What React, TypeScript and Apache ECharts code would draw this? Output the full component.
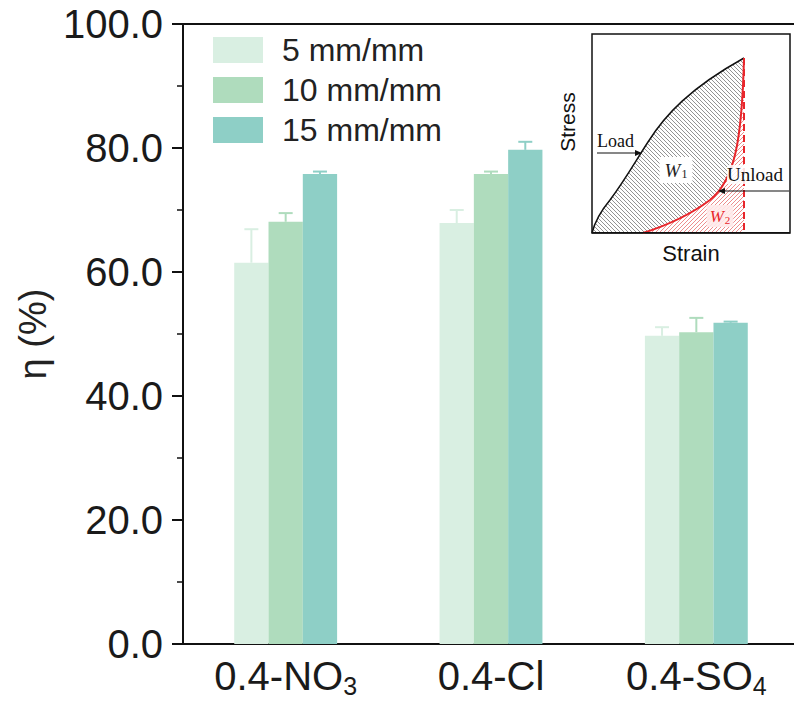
import React, { useEffect, useRef } from 'react';
import * as echarts from 'echarts';

const categories = ['0.4-NO3', '0.4-Cl', '0.4-SO4'];
const categoryLabels = ['{m|0.4-NO}{sub|3}', '{m|0.4-Cl}', '{m|0.4-SO}{sub|4}'];
const seriesNames = ['5 mm/mm', '10 mm/mm', '15 mm/mm'];
const values5 = [61.5, 67.9, 49.7];
const values10 = [68.1, 75.8, 50.3];
const values15 = [75.8, 79.7, 51.8];
const errors5 = [5.4, 2.1, 1.4];
const errors10 = [1.4, 0.4, 2.3];
const errors15 = [0.4, 1.3, 0.2];
const yMin = 0;
const yMax = 100;
const yInterval = 20;

const colors = ['#d9efe2', '#afdcbd', '#8ecfc6'];
const FONT = '"Liberation Sans", Arial, sans-serif';
const SERIF = '"Liberation Serif", "Times New Roman", serif';
const BAR_FRAC = 0.167;

const LOAD_D = 'M592,233 C595,221 600,212 610,200 C625,180 635,162 648,142 C665,115 690,88 744,58';
const UNLOAD_D = 'M744,58 C742,140 735,180 710,200 C690,215 665,226 643,233';
const W1_D = 'M592,233 C595,221 600,212 610,200 C625,180 635,162 648,142 C665,115 690,88 744,58 C742,140 735,180 710,200 C690,215 665,226 643,233 Z';
const W2_D = 'M643,233 C665,226 690,215 710,200 C735,180 742,140 744,58 L744,233 Z';

let registered = false;
function registerShapes() {
  if (registered) return;
  registered = true;
  echarts.graphic.registerShape('loadCurve', echarts.graphic.extendPath(LOAD_D, {}));
  echarts.graphic.registerShape('unloadCurve', echarts.graphic.extendPath(UNLOAD_D, {}));
  echarts.graphic.registerShape('w1Area', echarts.graphic.extendPath(W1_D, {}));
  echarts.graphic.registerShape('w2Area', echarts.graphic.extendPath(W2_D, {}));
}

function hatch(dir: 'back' | 'fwd', color: string) {
  const s = 4;
  const d = dir === 'back'
    ? `M0,0 L${s},${s} M-1,${s - 1} L1,${s + 1} M${s - 1},-1 L${s + 1},1`
    : `M0,${s} L${s},0 M-1,1 L1,-1 M${s - 1},${s + 1} L${s + 1},${s - 1}`;
  const svg = `<svg xmlns='http://www.w3.org/2000/svg' width='${s}' height='${s}'><path d='${d}' stroke='${color}' stroke-width='0.8' fill='none'/></svg>`;
  return {
    image: 'data:image/svg+xml;charset=utf-8,' + encodeURIComponent(svg),
    repeat: 'repeat',
    imageWidth: s,
    imageHeight: s,
  };
}

export default function App() {
  const ref = useRef<HTMLDivElement>(null);
  useEffect(() => {
    document.body.style.margin = '0';
    registerShapes();
    const chart = echarts.init(ref.current!, null, { renderer: 'svg' });
    const valueSets = [values5, values10, values15];
    const errorSets = [errors5, errors10, errors15];

    const barSeries = seriesNames.map((name, k) => ({
      name,
      type: 'bar',
      data: valueSets[k],
      barWidth: (BAR_FRAC * 100).toFixed(1) + '%',
      barGap: '0%',
      itemStyle: { color: colors[k] },
      z: 2,
    }));

    const errSeries = seriesNames.map((name, k) => ({
      name: name + ' error',
      type: 'custom',
      z: 3,
      data: valueSets[k].map((v, i) => [i, v, errorSets[k][i]]),
      encode: { x: 0, y: 1 },
      renderItem: (params: any, api: any) => {
        const ci = api.value(0);
        const v = api.value(1);
        const e = api.value(2);
        const base = api.coord([ci, v]);
        const top = api.coord([ci, v + e]);
        const band = api.size([1, 0])[0];
        const x = base[0] + (k - 1) * band * BAR_FRAC;
        const st = { stroke: colors[k], lineWidth: 2 };
        return {
          type: 'group',
          children: [
            { type: 'line', shape: { x1: x, y1: base[1], x2: x, y2: top[1] }, style: st },
            { type: 'line', shape: { x1: x - 7, y1: top[1], x2: x + 7, y2: top[1] }, style: st },
          ],
        };
      },
    }));

    const option: any = {
      animation: false,
      backgroundColor: '#ffffff',
      grid: { left: 183, top: 24, width: 616, height: 620, outerBoundsMode: 'none', containLabel: false },
      legend: {
        data: seriesNames,
        orient: 'vertical',
        left: 208,
        top: 29,
        itemWidth: 50,
        itemHeight: 26,
        itemGap: 8,
        icon: 'rect',
        formatter: (n: string) => '{t|' + n + '}',
        textStyle: {
          fontSize: 32,
          color: '#222',
          fontFamily: FONT,
          rich: { t: { fontSize: 32, color: '#222', fontFamily: FONT, lineHeight: 28, padding: [0, 0, 0, 14] } },
        },
      },
      xAxis: {
        type: 'category',
        data: categories,
        axisLine: { show: true, lineStyle: { color: '#111', width: 2 } },
        axisTick: { show: false },
        axisLabel: {
          interval: 0,
          hideOverlap: false,
          margin: 12,
          formatter: (_v: string, i: number) => categoryLabels[i],
          color: '#1a1a1a',
          fontFamily: FONT,
          fontSize: 40,
          verticalAlign: 'top',
          rich: {
            m: { fontSize: 40, lineHeight: 40, verticalAlign: 'top', color: '#1a1a1a', fontFamily: FONT },
            sub: { fontSize: 25, lineHeight: 20, padding: [17, 0, 0, 0], verticalAlign: 'top', color: '#1a1a1a', fontFamily: FONT },
          },
        },
      },
      yAxis: {
        type: 'value',
        min: yMin,
        max: yMax,
        interval: yInterval,
        name: 'η (%)',
        nameLocation: 'middle',
        nameGap: 128,
        nameTextStyle: { fontSize: 38, color: '#222', fontFamily: FONT },
        axisLine: { show: true, lineStyle: { color: '#111', width: 2 } },
        axisTick: { show: true, inside: false, length: 11, lineStyle: { color: '#111', width: 2 } },
        minorTick: { show: true, splitNumber: 2, length: 6, lineStyle: { color: '#111', width: 1.5 } },
        splitLine: { show: false },
        axisLabel: {
          formatter: (v: number) => v.toFixed(1),
          fontSize: 40,
          color: '#1a1a1a',
          fontFamily: FONT,
          margin: 20,
        },
      },
      series: [...barSeries, ...errSeries],
      graphic: [
        { type: 'line', shape: { x1: 172, y1: 24, x2: 794, y2: 24 }, style: { stroke: '#111', lineWidth: 2 }, z: 10 },
        { type: 'rect', shape: { x: 592, y: 34, width: 198, height: 199 }, style: { fill: '#fff', stroke: '#111', lineWidth: 1.5 }, z: 20 },
        { type: 'w1Area', x: 0, y: 0, style: { fill: hatch('back', '#777'), stroke: 'none' }, z: 21 },
        { type: 'w2Area', x: 0, y: 0, style: { fill: hatch('fwd', '#e87070'), stroke: 'none' }, z: 21 },
        { type: 'loadCurve', x: 0, y: 0, style: { fill: 'none', stroke: '#111', lineWidth: 1.5 }, z: 22 },
        { type: 'unloadCurve', x: 0, y: 0, style: { fill: 'none', stroke: '#e8262b', lineWidth: 2 }, z: 22 },
        { type: 'line', shape: { x1: 744, y1: 58, x2: 744, y2: 233 }, style: { stroke: '#e8262b', lineWidth: 2, lineDash: [7, 4] }, z: 22 },
        { type: 'rect', shape: { x: 592, y: 232, width: 198, height: 1.5 }, style: { fill: '#111' }, z: 23 },
        { type: 'text', x: 597, y: 150, style: { text: 'Load', fontSize: 18, fontFamily: SERIF, fill: '#111', textVerticalAlign: 'bottom' }, z: 24 },
        { type: 'line', shape: { x1: 597, y1: 153, x2: 638, y2: 153 }, style: { stroke: '#111', lineWidth: 1.2 }, z: 24 },
        { type: 'polygon', shape: { points: [[642, 153], [635, 150], [635, 156]] }, style: { fill: '#111' }, z: 24 },
        { type: 'text', x: 676, y: 170, style: { text: 'W{s|1}', fontSize: 19, fontFamily: SERIF, fontStyle: 'italic', fill: '#222', align: 'center', verticalAlign: 'middle', backgroundColor: '#fff', padding: [3, 5, 3, 5], rich: { s: { fontSize: 12, fontStyle: 'normal', fontFamily: SERIF, fill: '#222', padding: [8, 0, 0, 1] } } }, z: 24 },
        { type: 'text', x: 727, y: 184, style: { text: 'Unload', fontSize: 19, fontFamily: SERIF, fill: '#111', textVerticalAlign: 'bottom', backgroundColor: 'rgba(255,255,255,0.85)' }, z: 24 },
        { type: 'line', shape: { x1: 724, y1: 191, x2: 789, y2: 191 }, style: { stroke: '#111', lineWidth: 1.2 }, z: 24 },
        { type: 'polygon', shape: { points: [[718, 191], [725, 188], [725, 194]] }, style: { fill: '#111' }, z: 24 },
        { type: 'text', x: 720, y: 216, style: { text: 'W{s|2}', fontSize: 17, fontFamily: SERIF, fontStyle: 'italic', fill: '#e8262b', align: 'center', verticalAlign: 'middle', backgroundColor: 'rgba(255,235,235,0.9)', padding: [2, 3, 2, 3], rich: { s: { fontSize: 11, fontStyle: 'normal', fontFamily: SERIF, fill: '#e8262b', padding: [7, 0, 0, 1] } } }, z: 24 },
        { type: 'text', x: 567, y: 122, rotation: Math.PI / 2, style: { text: 'Stress', fontSize: 21, fontFamily: FONT, fill: '#111', align: 'center', verticalAlign: 'middle' }, z: 24 },
        { type: 'text', x: 691, y: 253, style: { text: 'Strain', fontSize: 22, fontFamily: FONT, fill: '#111', align: 'center', verticalAlign: 'middle' }, z: 24 },
      ],
    };
    chart.setOption(option);
    return () => chart.dispose();
  }, []);
  return <div ref={ref} style={{ width: 794, height: 704 }} />;
}
